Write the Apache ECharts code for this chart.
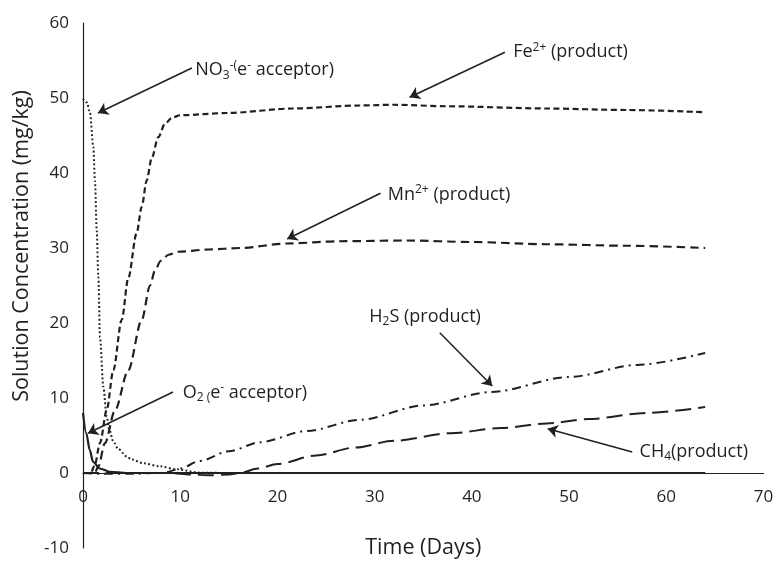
<!DOCTYPE html>
<html><head><meta charset="utf-8">
<script src="https://cdn.jsdelivr.net/npm/echarts@6/dist/echarts.min.js"></script>
<style>html,body{margin:0;padding:0;background:#fff}#c{width:776px;height:561px}</style>
</head><body><div id="c"></div>
<script>
// ---- axes ----
const xMin = 0, xMax = 70, xStep = 10;
const yMin = -10, yMax = 60, yStep = 10;
const xTitle = 'Time (Days)';
const yTitle = 'Solution Concentration (mg/kg)';

// ---- series values ----
const no3Days = [0, 0.4, 0.72, 1.06, 1.23, 1.41, 1.58, 1.75, 2.09, 2.44, 2.7, 3.12, 3.63, 4.5, 5.0, 6.2, 7.9, 9.6, 12, 15, 20, 30, 40, 50, 64];
const no3Conc = [49.9, 49.4, 48, 43.5, 39, 32.4, 26.1, 18.1, 11.5, 7.5, 5.8, 4.2, 3.2, 2.2, 1.8, 1.3, 0.9, 0.5, 0.05, 0, 0, 0, 0, 0, 0];

const feDays = [0, 0.8, 1.2, 1.75, 2.44, 3.12, 3.98, 4.66, 5.52, 6.04, 6.55, 7.07, 7.75, 8.44, 9.2, 10, 14.8, 21.6, 28.5, 32, 37.4, 47.7, 56, 64];
const feConc = [0, 0, 1.0, 4, 8.4, 13.7, 20.4, 26, 32, 35.5, 39, 42, 44.8, 46.6, 47.4, 47.7, 48.0, 48.6, 49.0, 49.1, 48.9, 48.6, 48.4, 48.1];

const mnDays = [0, 1.2, 1.57, 2.26, 3.3, 4.66, 6.04, 6.9, 7.4, 8.0, 8.8, 9.8, 12.9, 16.15, 21, 26.4, 33.3, 40, 47.7, 56, 64];
const mnConc = [0, 0, 0.84, 4, 8.4, 13.7, 20.4, 25.0, 27.0, 28.3, 29.1, 29.5, 29.8, 30.0, 30.6, 30.9, 31.0, 30.8, 30.5, 30.3, 30.0];

const h2sDays = [0, 2, 5, 8, 8.5, 10, 12, 15, 18.2, 23, 28.5, 35, 42, 50, 57, 64];
const h2sConc = [0, -0.1, -0.1, 0, 0.1, 0.6, 1.6, 2.9, 4.1, 5.6, 7.1, 9.0, 10.8, 12.8, 14.4, 16.0];

const ch4Days = [0, 5, 9, 11, 13, 15, 16.15, 18, 20, 24, 28, 32, 37.8, 43, 47.7, 52, 58, 64];
const ch4Conc = [0, 0, 0, -0.2, -0.3, -0.2, 0, 0.6, 1.2, 2.35, 3.4, 4.3, 5.3, 6.0, 6.6, 7.2, 8.0, 8.8];

const o2Days = [0, 0.34, 0.69, 1.03, 1.72, 2.74, 4.5, 10, 20, 30, 40, 50, 64];
const o2Conc = [8.0, 5.3, 3.1, 1.5, 0.6, 0.17, 0, 0, 0, 0, 0, 0, 0];

// ---- annotations (data coordinates) ----
const noteTexts = [
  'NO{sub|3}{sup|-(}e{sup|-} acceptor)',
  'Fe{sup|2+} (product)',
  'Mn{sup|2+} (product)',
  'H{sub|2}S (product)',
  'CH{sub|4}(product)',
  'O{sub|2 (}e{sup|-} acceptor)'
];
const noteTextDay  = [11.5, 44.2, 31.3, 29.4, 57.2, 10.2];
const noteTextConc = [53.7, 56.1, 37.1, 20.8, 2.8, 10.7];
const arrowFromDay  = [11.2, 43.4, 30.6, 36.7, 56.5, 9.26];
const arrowFromConc = [54.0, 56.1, 37.3, 18.7, 2.8, 10.8];
const arrowToDay    = [1.54, 33.6, 21.0, 42.1, 47.8, 0.51];
const arrowToConc   = [48.0, 50.1, 31.2, 11.6, 5.9, 5.3];

const ink = '#231f20';
const FONT = 'Open Sans';
const zip = (a, b) => a.map((v, i) => [v, b[i]]);

// layout (pixels)
const gridTop = 23, gridBottom = 13, gridLeft = 83, gridRight = 12.5, chartH = 561;
const plotH = chartH - gridTop - gridBottom;
const zeroOffset = -plotH * (0 - yMin) / (yMax - yMin); // lift x axis from bottom to y = 0

function lineSeries(name, xs, ys, dash, width) {
  return {
    name, type: 'line', data: zip(xs, ys), showSymbol: false, symbol: 'none',
    smooth: 0.3, smoothMonotone: 'x', silent: true, animation: false,
    lineStyle: { color: ink, width: width, type: dash, cap: 'butt' },
    z: 3
  };
}

const series = [
  lineSeries('NO3', no3Days, no3Conc, [1.8, 2.4], 2),
  lineSeries('Fe', feDays, feConc, [6, 3.5], 2.2),
  lineSeries('Mn', mnDays, mnConc, [8.5, 5], 2.2),
  lineSeries('H2S', h2sDays, h2sConc, [9, 5, 2, 5], 2),
  lineSeries('CH4', ch4Days, ch4Conc, [16, 7], 2),
  lineSeries('O2', o2Days, o2Conc, 'solid', 2.2)
];

series.push({
  name: 'notes', type: 'line', data: [], silent: true, animation: false,
  markLine: {
    silent: true, animation: false,
    symbol: ['none', 'arrow'], symbolSize: 10,
    label: { show: false },
    lineStyle: { color: ink, width: 1.5, type: 'solid' },
    emphasis: { disabled: true },
    data: arrowFromDay.map((d, i) => [
      { coord: [d, arrowFromConc[i]] },
      { coord: [arrowToDay[i], arrowToConc[i]] }
    ])
  },
  markPoint: {
    silent: true, animation: false,
    symbol: 'circle', symbolSize: 1,
    itemStyle: { color: 'transparent' },
    label: {
      show: true, position: 'right', distance: 0,
      color: ink, fontFamily: FONT, fontSize: 18, lineHeight: 22,
      rich: {
        sup: { fontSize: 12, lineHeight: 14, verticalAlign: 'top', color: ink, fontFamily: FONT },
        sub: { fontSize: 12, lineHeight: 14, verticalAlign: 'bottom', color: ink, fontFamily: FONT }
      }
    },
    data: noteTexts.map((t, i) => ({
      coord: [noteTextDay[i], noteTextConc[i]],
      label: { formatter: t }
    }))
  }
});

const chart = echarts.init(document.getElementById('c'), null, { renderer: 'canvas' });
chart.setOption({
  animation: false,
  backgroundColor: '#ffffff',
  grid: { left: gridLeft, right: gridRight, top: gridTop, bottom: gridBottom, containLabel: false, outerBoundsMode: 'none' },
  xAxis: {
    type: 'value', min: xMin, max: xMax, interval: xStep,
    position: 'bottom', offset: zeroOffset,
    name: xTitle, nameLocation: 'middle', nameGap: 64,
    nameTextStyle: { color: ink, fontFamily: FONT, fontSize: 21.5 },
    axisLine: { show: true, onZero: false, lineStyle: { color: ink, width: 1.2 } },
    axisTick: { show: false },
    splitLine: { show: false },
    axisLabel: { show: true, color: ink, fontFamily: FONT, fontSize: 17, margin: 16 }
  },
  yAxis: {
    type: 'value', min: yMin, max: yMax, interval: yStep,
    axisLine: { show: true, onZero: false, lineStyle: { color: ink, width: 1.2 } },
    axisTick: { show: false },
    splitLine: { show: false },
    axisLabel: { color: ink, fontFamily: FONT, fontSize: 17, margin: 14 }
  },
  graphic: [{
    type: 'text', x: 22, y: 246, rotation: Math.PI / 2,
    style: { text: yTitle, fill: ink, font: '21.5px "Open Sans"', textAlign: 'center', textVerticalAlign: 'middle' }
  }],
  series
});
</script></body></html>
